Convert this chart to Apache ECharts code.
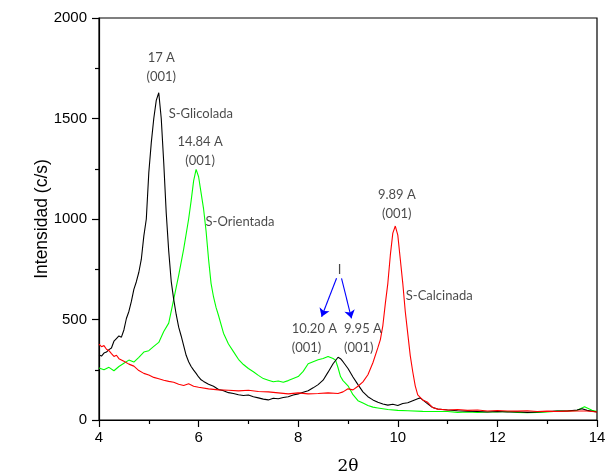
<!DOCTYPE html>
<html>
<head>
<meta charset="utf-8">
<script src="https://cdn.jsdelivr.net/npm/echarts@6/dist/echarts.min.js"></script>
<style>
  html, body { margin: 0; padding: 0; background: #fff; }
  #chart { width: 606px; height: 474px; }
</style>
</head>
<body>
<div id="chart"></div>
<script>
// 2-theta axis ticks and intensity ticks
const thetaTicks = [4, 6, 8, 10, 12, 14];
const countTicks = [0, 500, 1000, 1500, 2000];

// S-Glicolada (black)
const glicoladaTheta = [4.00,4.05,4.10,4.15,4.20,4.25,4.30,4.35,4.40,4.45,4.50,4.55,4.60,4.65,4.70,4.75,4.80,4.85,4.90,4.95,5.00,5.05,5.10,5.15,5.20,5.25,5.30,5.35,5.40,5.45,5.50,5.55,5.60,5.65,5.70,5.75,5.80,5.85,5.90,5.95,6.00,6.05,6.10,6.20,6.30,6.40,6.50,6.60,6.70,6.80,6.90,7.00,7.10,7.20,7.30,7.40,7.50,7.60,7.70,7.80,7.90,8.00,8.10,8.20,8.30,8.40,8.50,8.60,8.70,8.80,8.85,8.90,9.00,9.10,9.20,9.30,9.40,9.50,9.60,9.70,9.80,9.90,10.00,10.10,10.20,10.30,10.40,10.45,10.50,10.60,10.70,10.80,11.00,11.20,11.40,11.60,11.80,12.00,12.20,12.40,12.60,12.80,13.00,13.20,13.40,13.60,13.70,13.80,14.00];
const glicoladaCounts = [323,318,333,338,350,358,392,405,418,412,448,505,540,590,650,688,735,800,915,1000,1230,1380,1500,1590,1628,1500,1280,1030,840,690,600,525,462,418,370,322,290,266,248,232,214,200,192,178,168,152,146,136,132,126,122,124,116,110,104,100,108,106,112,116,124,130,138,146,160,176,198,238,280,312,305,290,256,214,176,140,116,100,88,80,74,78,72,82,86,96,106,110,100,80,62,55,50,46,44,42,40,42,40,41,38,40,42,44,45,50,56,48,40];

// S-Orientada (green)
const orientadaTheta = [4.00,4.10,4.20,4.30,4.40,4.50,4.60,4.70,4.80,4.90,5.00,5.10,5.20,5.30,5.40,5.50,5.60,5.70,5.80,5.85,5.90,5.95,6.00,6.05,6.10,6.15,6.20,6.25,6.30,6.35,6.40,6.50,6.60,6.70,6.80,6.90,7.00,7.10,7.20,7.30,7.40,7.50,7.60,7.70,7.80,7.90,8.00,8.10,8.20,8.30,8.40,8.50,8.60,8.70,8.75,8.80,8.85,8.90,9.00,9.10,9.20,9.30,9.40,9.50,9.60,9.80,10.00,10.20,10.50,11.00,11.20,11.40,11.60,11.80,12.00,12.20,12.40,12.60,12.80,13.00,13.20,13.40,13.60,13.75,13.90,14.00];
const orientadaCounts = [259,250,262,245,266,282,298,288,312,338,345,366,386,440,482,600,720,850,1000,1090,1190,1247,1210,1130,1050,940,800,680,612,560,520,432,378,340,302,276,256,240,222,206,198,190,194,188,196,206,216,242,280,290,300,306,316,306,298,260,216,196,170,126,96,84,72,64,60,52,48,46,43,42,38,40,38,40,40,42,38,36,38,40,44,45,48,66,48,42];

// S-Calcinada (red)
const calcinadaTheta = [4.00,4.05,4.10,4.15,4.20,4.25,4.30,4.35,4.40,4.50,4.60,4.70,4.80,4.90,5.00,5.10,5.20,5.30,5.40,5.50,5.60,5.70,5.80,5.90,6.00,6.20,6.40,6.60,6.80,7.00,7.20,7.40,7.60,7.80,8.00,8.20,8.40,8.60,8.80,8.90,9.00,9.10,9.20,9.30,9.40,9.50,9.60,9.65,9.70,9.75,9.80,9.85,9.90,9.95,10.00,10.05,10.10,10.15,10.20,10.25,10.30,10.35,10.40,10.50,10.60,10.70,10.80,11.00,11.20,11.40,11.60,11.80,12.00,12.20,12.40,12.60,12.80,13.00,13.20,13.40,13.60,13.80,14.00];
const calcinadaCounts = [378,365,370,352,345,330,316,322,305,292,278,268,246,232,224,212,205,198,192,188,178,172,180,168,163,155,150,148,145,148,142,140,135,130,135,130,132,135,132,140,155,150,168,190,225,285,360,400,470,580,680,820,930,965,920,800,680,540,430,320,240,170,125,100,88,62,54,50,52,48,50,45,47,45,44,46,42,44,42,44,45,45,40];

// Peak annotations, anchored at [2theta, counts]
const centeredNotes = [
  { text: '17 A\n(001)', theta: 5.25, counts: 1756 },
  { text: '14.84 A\n(001)', theta: 6.03, counts: 1338 },
  { text: '9.89 A\n(001)', theta: 9.98, counts: 1072 },
  { text: 'I', theta: 8.83, counts: 746 }
];
const leftNotes = [
  { text: 'S-Glicolada', theta: 5.40, counts: 1522 },
  { text: 'S-Orientada', theta: 6.14, counts: 985 },
  { text: 'S-Calcinada', theta: 10.16, counts: 617 },
  { text: '10.20 A\n(001)', theta: 7.87, counts: 405 },
  { text: '9.95 A\n(001)', theta: 8.92, counts: 405 }
];
// Arrows from the "I" marker down to the two peaks
const arrowStarts = [[8.77, 705], [8.87, 705]];
const arrowEnds = [[8.47, 514], [9.07, 506]];

const zip = (xs, ys) => xs.map((x, i) => [x, ys[i]]);

const noteFont = { fontFamily: 'Lato', fontSize: 13, color: '#1a1a1a', lineHeight: 19 };

const chart = echarts.init(document.getElementById('chart'), null, { renderer: 'canvas' });

chart.setOption({
  animation: false,
  backgroundColor: '#fff',
  grid: {
    left: 99, right: 9, top: 18, bottom: 54,
    outerBoundsMode: 'none',
    containLabel: false,
    show: true, borderColor: '#000', borderWidth: 1.2, backgroundColor: 'transparent'
  },
  xAxis: {
    type: 'value',
    min: thetaTicks[0], max: thetaTicks[thetaTicks.length - 1], interval: 2,
    name: '2θ',
    nameLocation: 'middle',
    nameGap: 38,
    nameMoveOverlap: false,
    nameTextStyle: { fontFamily: 'DejaVu Serif', fontSize: 17, color: '#000' },
    axisLine: { show: true, onZero: false, lineStyle: { color: '#000', width: 1.2 } },
    axisTick: { show: true, inside: false, length: 7, lineStyle: { color: '#000', width: 1.2 } },
    minorTick: { show: true, splitNumber: 2, length: 4, lineStyle: { color: '#000', width: 1.2 } },
    axisLabel: { fontFamily: 'Liberation Sans', fontSize: 15, color: '#000', margin: 10 },
    splitLine: { show: false }
  },
  yAxis: {
    type: 'value',
    min: countTicks[0], max: countTicks[countTicks.length - 1], interval: 500,
    name: 'Intensidad (c/s)',
    nameLocation: 'middle',
    nameGap: 48,
    nameMoveOverlap: false,
    nameTextStyle: { fontFamily: 'Liberation Sans', fontSize: 17.5, color: '#000' },
    axisLine: { show: true, onZero: false, lineStyle: { color: '#000', width: 1.2 } },
    axisTick: { show: true, inside: false, length: 7, lineStyle: { color: '#000', width: 1.2 } },
    minorTick: { show: true, splitNumber: 2, length: 4, lineStyle: { color: '#000', width: 1.2 } },
    axisLabel: { fontFamily: 'Liberation Sans', fontSize: 15, color: '#000', margin: 12, formatter: v => String(v) },
    splitLine: { show: false }
  },
  series: [
    {
      name: 'S-Glicolada', type: 'line', data: zip(glicoladaTheta, glicoladaCounts),
      showSymbol: false, lineStyle: { color: '#000000', width: 1.1 }, z: 3
    },
    {
      name: 'S-Orientada', type: 'line', data: zip(orientadaTheta, orientadaCounts),
      showSymbol: false, lineStyle: { color: '#00ff00', width: 1.1 }, z: 2
    },
    {
      name: 'S-Calcinada', type: 'line', data: zip(calcinadaTheta, calcinadaCounts),
      showSymbol: false, lineStyle: { color: '#ff0000', width: 1.1 }, z: 4,
      markLine: {
        silent: true,
        symbol: ['none', 'arrow'],
        symbolSize: 8,
        label: { show: false },
        lineStyle: { color: '#0000ff', width: 1.1, type: 'solid' },
        data: arrowStarts.map((s, i) => [{ coord: s }, { coord: arrowEnds[i] }])
      }
    },
    {
      type: 'scatter', symbolSize: 0, silent: true, z: 5,
      data: centeredNotes.map(n => ({ value: [n.theta, n.counts], name: n.text })),
      label: {
        show: true, position: 'inside', align: 'center', verticalAlign: 'middle',
        formatter: p => p.name, ...noteFont
      }
    },
    {
      type: 'scatter', symbolSize: 0, silent: true, z: 5,
      data: leftNotes.map(n => ({ value: [n.theta, n.counts], name: n.text })),
      label: {
        show: true, position: 'inside', align: 'left', verticalAlign: 'middle',
        formatter: p => p.name, ...noteFont
      }
    }
  ]
});
</script>
</body>
</html>
